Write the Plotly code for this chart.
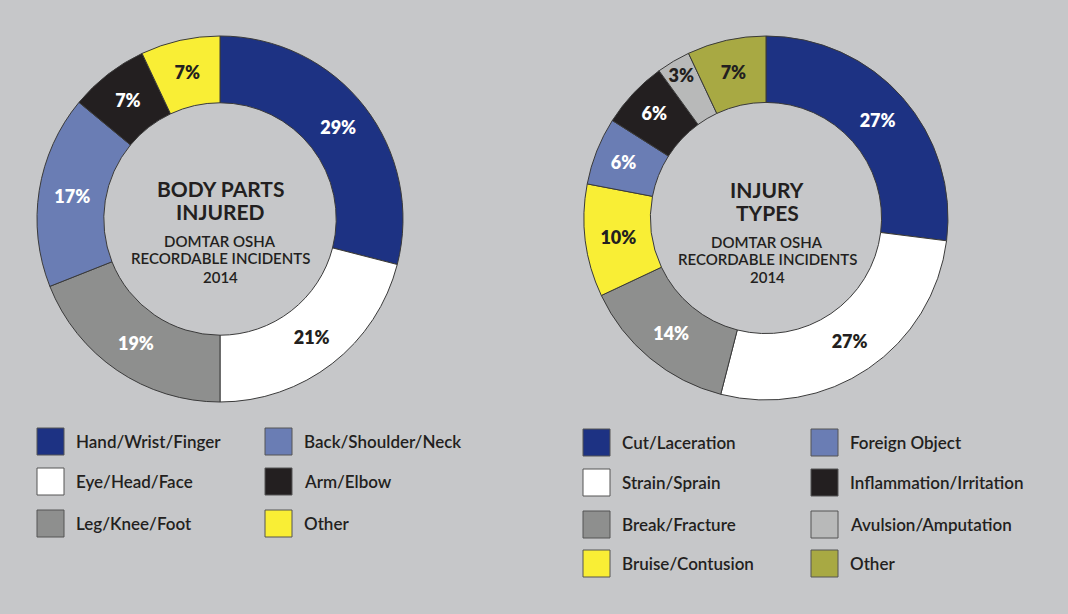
import plotly.graph_objects as go

W, H = 1068, 614

# body parts injured
body_labels = ["Hand/Wrist/Finger", "Eye/Head/Face", "Leg/Knee/Foot",
               "Back/Shoulder/Neck", "Arm/Elbow", "Other"]
body_values = [29, 21, 19, 17, 7, 7]
body_colors = ["#1d3283", "#ffffff", "#8e8f8e", "#6a7db4", "#231f20", "#f9ee35"]
body_text_colors = ["white", "#231f20", "white", "white", "white", "#231f20"]

# injury types
type_labels = ["Cut/Laceration", "Strain/Sprain", "Break/Fracture", "Bruise/Contusion",
               "Foreign Object", "Inflammation/Irritation", "Avulsion/Amputation", "Other"]
type_values = [27, 27, 14, 10, 6, 6, 3, 7]
type_colors = ["#1d3283", "#ffffff", "#8e8f8e", "#f9ee35",
               "#6a7db4", "#231f20", "#b8b9b9", "#a8a943"]
type_text_colors = ["white", "#231f20", "white", "#231f20",
                    "white", "white", "#231f20", "#231f20"]

center_lines_body = ["BODY PARTS", "INJURED", "DOMTAR OSHA", "RECORDABLE INCIDENTS", "2014"]
center_lines_type = ["INJURY", "TYPES", "DOMTAR OSHA", "RECORDABLE INCIDENTS", "2014"]

BG = "#c6c7c9"
INK = "#231f20"
FONT = "Lato"


def px(x):
    return x / W


def py(y):
    return 1 - y / H


def donut(labels, values, colors, text_colors, cx, cy, r):
    return go.Pie(
        labels=labels,
        values=values,
        sort=False,
        direction="clockwise",
        hole=0.635,
        marker=dict(colors=colors, line=dict(color="#3a3a3a", width=1)),
        texttemplate="%{value}%",
        textposition="inside",
        insidetextorientation="horizontal",
        textfont=dict(family=FONT, size=18, color=text_colors, weight=800),
        domain=dict(x=[px(cx - r), px(cx + r)], y=[py(cy + r), py(cy - r)]),
        showlegend=False,
        hoverinfo="label+value",
    )


fig = go.Figure()
fig.add_trace(donut(body_labels, body_values, body_colors, body_text_colors, 220, 219, 183))
fig.add_trace(donut(type_labels, type_values, type_colors, type_text_colors, 766, 218, 182))

annotations = []
shapes = []

# centre texts
line_y_body = [188, 212, 241, 258, 277]
line_y_type = [189, 213, 242, 259, 277]
sizes = [21, 21, 15, 15, 15]
weights = [700, 700, 600, 600, 600]
for lines, ys, cx in [(center_lines_body, line_y_body, 220), (center_lines_type, line_y_type, 767)]:
    for txt, y, s, wt in zip(lines, ys, sizes, weights):
        annotations.append(dict(
            text=txt, x=px(cx), y=py(y), xref="paper", yref="paper",
            xanchor="center", yanchor="middle", showarrow=False,
            font=dict(family=FONT, size=s, color=INK, weight=wt),
        ))


# legends drawn as boxes + labels, column-major
def add_legend(labels, colors, col_x, row_y):
    nrows = len(row_y)
    box = 27
    for i, (lab, col) in enumerate(zip(labels, colors)):
        c, rr = divmod(i, nrows)
        x0 = col_x[c]
        yc = row_y[rr]
        shapes.append(dict(
            type="rect", xref="paper", yref="paper",
            x0=px(x0), x1=px(x0 + box), y0=py(yc + box / 2), y1=py(yc - box / 2),
            fillcolor=col, line=dict(color="#555555", width=1),
        ))
        annotations.append(dict(
            text=lab, x=px(x0 + 37), y=py(yc), xref="paper", yref="paper",
            xanchor="left", yanchor="middle", showarrow=False,
            font=dict(family=FONT, size=17, color=INK, weight=600),
        ))


add_legend(body_labels, body_colors, [37, 265], [441.5, 481.5, 523.5])
add_legend(type_labels, type_colors, [583, 811], [442.5, 482.5, 524.5, 563.5])

fig.update_layout(
    width=W,
    height=H,
    margin=dict(l=0, r=0, t=0, b=0),
    paper_bgcolor=BG,
    plot_bgcolor=BG,
    uniformtext=dict(minsize=18, mode="show"),
    annotations=annotations,
    shapes=shapes,
)

# drop the default page margin so the figure sits at the window origin
fig.write_html("out.html", config={"displayModeBar": False},
               post_script="document.body.style.margin='0';")
